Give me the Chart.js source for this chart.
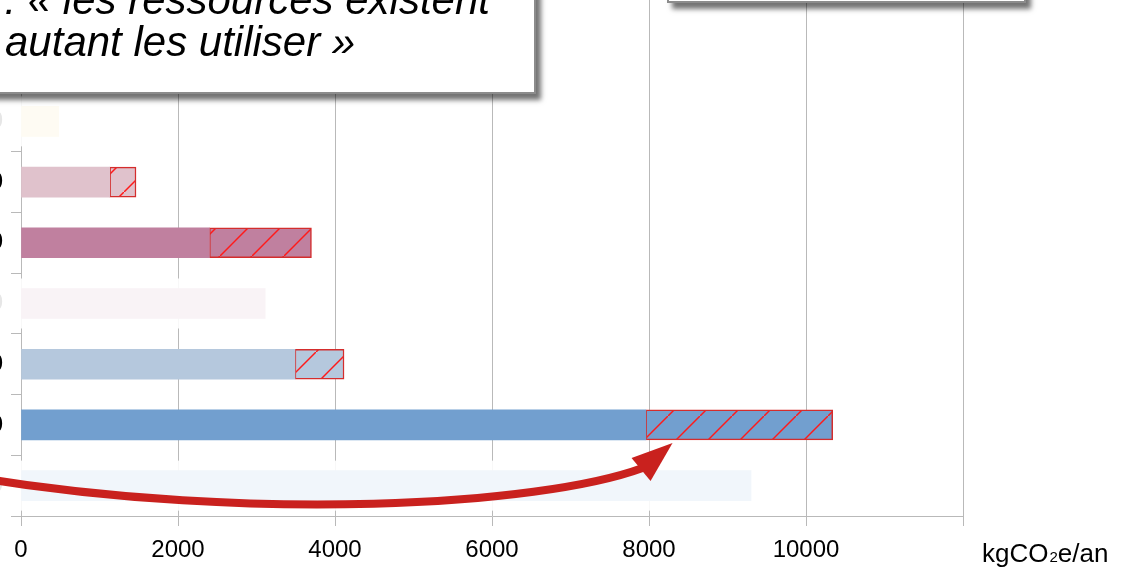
<!DOCTYPE html>
<html lang="fr">
<head>
<meta charset="utf-8">
<title>Empreinte carbone</title>
<script src="https://cdn.jsdelivr.net/npm/chart.js@4.4.1/dist/chart.umd.min.js"></script>
<style>
html, body { margin: 0; padding: 0; background: #fff; }
#page { position: relative; width: 1124px; height: 572px; overflow: hidden; }
#wrap { position: absolute; left: -100px; top: 0; width: 1224px; height: 572px; }
.box { position: absolute; background: #fff; border: 2px solid #8c8c8c; box-shadow: 5px 6px 5px rgba(0,0,0,0.55); }
.line { position: absolute; font-family: 'Liberation Sans', Arial, sans-serif; font-style: italic; font-size: 42px; line-height: 42px; white-space: nowrap; color: #000; }
</style>
</head>
<body>
<div id="page">
  <div id="wrap"><canvas id="chart" width="1224" height="572"></canvas></div>
  <div class="box" style="left:-200px; top:-60px; width:732px; height:150px;"></div>
  <div class="line" style="right:634px; top:-21px;">Argument : « les ressources existent</div>
  <div class="line" style="left:5px; top:21px;">autant les utiliser »</div>
  <div class="box" style="left:667px; top:-100px; width:355px; height:99px;"></div>
</div>
<script>
document.addEventListener("DOMContentLoaded", function(){

const categories = ['Réf. 2020', 'A 2030', 'A 2050', "A' 2050", 'B 2030', 'B 2050', "B' 2050"]
const baseValues = [480, 1130, 2400, 3110, 3490, 7960, 9300]
const extraValues = [null, 335, 1300, null, 625, 2380, null]
const baseColors = ['#efd582', '#e0c2cc', '#c0809f', '#c0809f', '#b5c8dd', '#729fcf', '#729fcf']
const dimmedRows = [0, 3, 6]
const xTicks = [0, 2000, 4000, 6000, 8000, 10000, 12000]
const xTickLabels = ['0', '2000', '4000', '6000', '8000', '10000', '']

const gridColor = '#b9b9b9'
const red = '#c9211e'

Chart.defaults.font.family = "'Liberation Sans', Arial, sans-serif"

// red diagonal hatch on the bar colour
function hatch(color){
  const c = document.createElement('canvas')
  c.width = 32; c.height = 32
  const g = c.getContext('2d')
  g.fillStyle = color
  g.fillRect(0, 0, 32, 32)
  g.strokeStyle = '#ff1a1a'
  g.lineWidth = 1.5
  g.beginPath(); g.moveTo(-2, 34); g.lineTo(34, -2); g.stroke()
  return g.createPattern(c, 'repeat')
}

const extras = {
  id: 'extras',
  beforeDatasetsDraw(chart){
    // grid lines continue above the plot, behind the callouts
    const {ctx, chartArea, scales: {x}} = chart
    ctx.save()
    ctx.strokeStyle = gridColor
    ctx.lineWidth = 1
    x.ticks.forEach(t => {
      const px = Math.round(x.getPixelForValue(t.value)) + 0.5
      ctx.beginPath(); ctx.moveTo(px, 0); ctx.lineTo(px, chartArea.top); ctx.stroke()
    })
    ctx.restore()
  },
  afterDatasetsDraw(chart){
    const ctx = chart.ctx
    const meta = chart.getDatasetMeta(0)
    ctx.save()
    ctx.fillStyle = 'rgba(255,255,255,0.9)'
    dimmedRows.forEach(i => {
      const b = meta.data[i]
      ctx.fillRect(0, b.y - 25, b.x + 4, 50)
    })
    ctx.restore()
  },
  afterDraw(chart){
    const {ctx, chartArea, scales: {x}} = chart
    ctx.save()
    // unit label
    let ux = chartArea.right + 19
    const uy = 562
    ctx.fillStyle = '#000'
    ctx.textBaseline = 'alphabetic'
    ctx.font = "26px 'Liberation Sans', Arial, sans-serif"
    ctx.fillText('kgCO', ux, uy)
    ux += ctx.measureText('kgCO').width
    ctx.font = "15px 'Liberation Sans', Arial, sans-serif"
    ctx.fillText('2', ux + 1, uy)
    ux += ctx.measureText('2').width + 1
    ctx.font = "26px 'Liberation Sans', Arial, sans-serif"
    ctx.fillText('e/an', ux, uy)

    // curved arrow pointing at the extra part of the big blue bar
    const bar = chart.getDatasetMeta(0).data[5]
    const tx = x.getPixelForValue(8300)
    const ty = bar.y + 18
    ctx.strokeStyle = red
    ctx.fillStyle = red
    ctx.lineWidth = 8
    ctx.lineCap = 'butt'
    ctx.beginPath()
    ctx.moveTo(tx - 693, ty + 35)
    ctx.bezierCurveTo(tx - 423, ty + 79, tx - 133, ty + 63, tx - 30, ty + 25)
    ctx.stroke()
    ctx.beginPath()
    ctx.moveTo(tx, ty)
    ctx.lineTo(tx - 41, ty + 15)
    ctx.lineTo(tx - 22, ty + 38)
    ctx.closePath()
    ctx.fill()
    ctx.restore()
  }
}

new Chart(document.getElementById('chart'), {
  type: 'bar',
  data: {
    labels: categories,
    datasets: [{
      data: baseValues,
      backgroundColor: baseColors,
      barThickness: 30,
      borderWidth: 0
    }, {
      data: extraValues,
      backgroundColor: baseColors.map(hatch),
      borderColor: '#d42d2d',
      borderWidth: 1.5,
      borderSkipped: false,
      barThickness: 30
    }]
  },
  options: {
    indexAxis: 'y',
    responsive: false,
    animation: false,
    devicePixelRatio: 1,
    layout: { padding: { top: 91, right: 161, left: 0, bottom: 0 } },
    plugins: { legend: { display: false }, tooltip: { enabled: false } },
    scales: {
      x: {
        type: 'linear',
        stacked: true,
        min: 0,
        max: 12000,
        afterBuildTicks: s => { s.ticks = xTicks.map(v => ({ value: v })) },
        afterFit: s => { s.height = 56 },
        ticks: {
          padding: 10,
          color: '#000',
          font: { size: 24 },
          maxRotation: 0,
          autoSkip: false,
          callback: (v, i) => xTickLabels[i]
        },
        grid: { color: gridColor, tickLength: 10 },
        border: { color: gridColor }
      },
      y: {
        stacked: true,
        afterFit: s => { s.width = 121 },
        ticks: { padding: 8, color: '#000', font: { size: 24 } },
        grid: { drawOnChartArea: false, color: gridColor, tickLength: 10 },
        border: { color: gridColor }
      }
    }
  },
  plugins: [extras]
})

})
</script>
</body>
</html>
